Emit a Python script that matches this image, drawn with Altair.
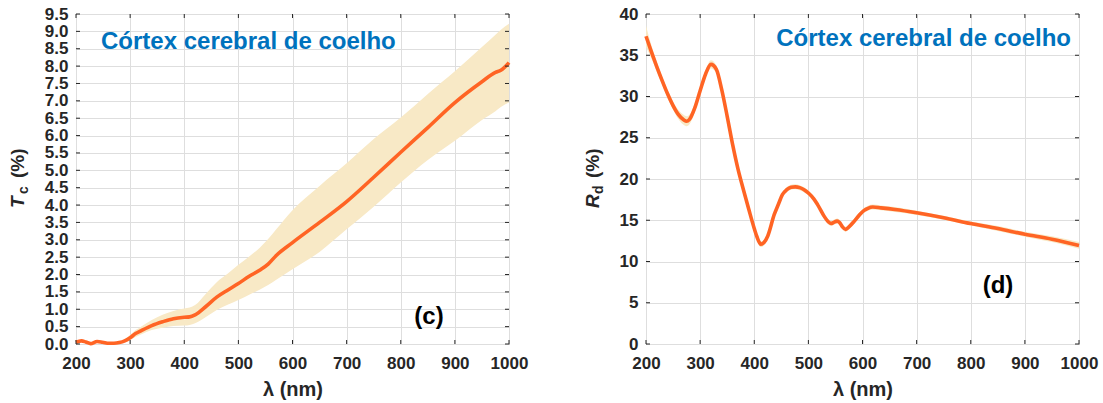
import altair as alt
import pandas as pd

# ---------------- data: panel (c) collimated transmittance ----------------
tc_x = [200, 210, 218, 227, 239, 249, 261, 270, 280, 290, 300, 310, 320, 340, 360, 380, 400, 410, 420,
        440, 460, 480, 500, 520, 540, 555, 570, 600, 650, 700, 750, 800, 850, 900, 950, 975, 985, 1000]
tc_mean = [0.05, 0.09, 0.06, 0.01, 0.07, 0.05, 0.02, 0.02, 0.04, 0.09, 0.18, 0.30, 0.38, 0.53, 0.64, 0.73,
           0.77, 0.78, 0.84, 1.08, 1.35, 1.55, 1.74, 1.95, 2.13, 2.30, 2.55, 2.92, 3.50, 4.10, 4.80, 5.52,
           6.23, 6.95, 7.55, 7.82, 7.88, 8.10]
tc_upper = [0.07, 0.11, 0.08, 0.03, 0.09, 0.07, 0.04, 0.04, 0.07, 0.14, 0.26, 0.40, 0.50, 0.69, 0.84, 0.95,
            1.02, 1.05, 1.12, 1.45, 1.78, 2.02, 2.28, 2.52, 2.78, 3.02, 3.30, 3.85, 4.55, 5.20, 5.90, 6.52,
            7.20, 7.85, 8.55, 8.90, 9.05, 9.22]
tc_lower = [0.03, 0.07, 0.04, 0.00, 0.05, 0.03, 0.00, 0.00, 0.02, 0.05, 0.11, 0.20, 0.27, 0.40, 0.47, 0.52,
            0.53, 0.55, 0.60, 0.78, 0.98, 1.13, 1.27, 1.42, 1.57, 1.70, 1.85, 2.15, 2.65, 3.30, 3.95, 4.65,
            5.30, 5.85, 6.45, 6.70, 6.82, 6.95]

# ---------------- data: panel (d) diffuse reflectance ----------------
rd_x = [200, 210, 220, 230, 240, 250, 260, 270, 275, 280, 290, 300, 310, 320, 330, 340, 350, 360, 370, 380,
        390, 400, 405, 412, 418, 425, 437, 445, 452, 460, 468, 476, 484, 492, 500, 510, 517, 529, 537, 542,
        547, 553, 558, 563, 569, 575, 585, 595, 603, 610, 619, 634, 660, 700, 750, 800, 850, 900, 950, 1000]
rd_mean = [37.3, 35.4, 33.6, 31.9, 30.3, 28.9, 27.8, 27.15, 27.0, 27.2, 28.6, 30.7, 32.7, 33.9, 33.3, 30.8,
           27.6, 24.2, 21.2, 18.7, 16.3, 14.0, 13.0, 12.1, 12.3, 13.1, 15.7, 17.0, 18.1, 18.7, 19.0, 19.05,
           18.95, 18.7, 18.3, 17.6, 16.9, 15.5, 14.8, 14.6, 14.75, 14.9, 14.7, 14.2, 13.9, 14.2, 14.9, 15.7,
           16.2, 16.45, 16.6, 16.5, 16.3, 15.9, 15.3, 14.6, 14.0, 13.3, 12.7, 11.95]
rd_upper = [38.6, 36.2, 34.2, 32.4, 30.8, 29.4, 28.35, 27.75, 27.6, 27.8, 29.1, 31.15, 33.15, 34.4, 33.75,
            31.2, 28.0, 24.6, 21.6, 19.1, 16.7, 14.35, 13.35, 12.45, 12.65, 13.4, 16.0, 17.3, 18.4, 19.0,
            19.3, 19.35, 19.25, 19.0, 18.6, 17.9, 17.2, 15.8, 15.1, 14.9, 15.05, 15.2, 15.0, 14.5, 14.2,
            14.5, 15.2, 16.0, 16.5, 16.75, 16.9, 16.8, 16.6, 16.15, 15.55, 14.85, 14.3, 13.6, 13.05, 12.35]
rd_lower = [36.0, 34.6, 33.0, 31.4, 29.8, 28.4, 27.25, 26.55, 26.4, 26.6, 28.1, 30.25, 32.25, 33.4, 32.85,
            30.4, 27.2, 23.8, 20.8, 18.3, 15.9, 13.65, 12.65, 11.75, 11.95, 12.8, 15.4, 16.7, 17.8, 18.4,
            18.7, 18.75, 18.65, 18.4, 18.0, 17.3, 16.6, 15.2, 14.5, 14.3, 14.45, 14.6, 14.4, 13.9, 13.6,
            13.9, 14.6, 15.4, 15.9, 16.15, 16.3, 16.2, 16.0, 15.65, 15.05, 14.35, 13.7, 13.0, 12.35, 11.55]

x_ticks = [200, 300, 400, 500, 600, 700, 800, 900, 1000]
tc_ticks = [0.0, 0.5, 1.0, 1.5, 2.0, 2.5, 3.0, 3.5, 4.0, 4.5, 5.0, 5.5, 6.0, 6.5, 7.0, 7.5, 8.0, 8.5, 9.0, 9.5]
rd_ticks = [0, 5, 10, 15, 20, 25, 30, 35, 40]

panel_title = "Córtex cerebral de coelho"
x_title = "λ (nm)"

LINE = "#FF6424"
BAND = "#F8E9C6"
BLUE = "#0072BD"
DARK = "#262626"
FONT = "Liberation Sans"
W, H = 433, 330


def panel(xs, mean, lo, hi, ymax, yticks, yfmt, letter, sym, sub, title_pos, letter_pos, ytitle_x):
    df = pd.DataFrame({"x": xs, "m": mean, "lo": lo, "hi": hi})
    xscale = alt.Scale(domain=[200, 1000], nice=False, zero=False)
    yscale = alt.Scale(domain=[0, ymax], nice=False, zero=False)
    xaxis = alt.Axis(values=x_ticks, title=x_title, format="d", labelOverlap=False, labelFlush=False,
                     labelPadding=11, titlePadding=8)
    yaxis = alt.Axis(values=yticks, title=None, format=yfmt, labelOverlap=False, labelFlush=False)

    def X(f):
        return alt.X(f, type="quantitative", scale=xscale, axis=xaxis)

    def Y(f):
        return alt.Y(f, type="quantitative", scale=yscale, axis=yaxis)

    band = alt.Chart(df).mark_area(color=BAND, opacity=1, interpolate="monotone").encode(
        x=X("x"), y=Y("lo"), y2="hi",
    )
    line = alt.Chart(df).mark_line(color=LINE, strokeWidth=3.6, interpolate="monotone").encode(
        x=X("x"), y=Y("m"),
    )

    xt = pd.DataFrame({"x": x_ticks})
    yt = pd.DataFrame({"m": yticks})
    tick_bottom = alt.Chart(xt).mark_rule(color=DARK, strokeWidth=1).encode(
        x=X("x"), y=alt.value(H), y2=alt.value(H - 4))
    tick_top = alt.Chart(xt).mark_rule(color=DARK, strokeWidth=1).encode(
        x=X("x"), y=alt.value(0), y2=alt.value(4))
    tick_left = alt.Chart(yt).mark_rule(color=DARK, strokeWidth=1).encode(
        y=Y("m"), x=alt.value(0), x2=alt.value(4))
    tick_right = alt.Chart(yt).mark_rule(color=DARK, strokeWidth=1).encode(
        y=Y("m"), x=alt.value(W), x2=alt.value(W - 4))

    t_df = pd.DataFrame({"t": [panel_title]})
    title = alt.Chart(t_df).mark_text(
        font=FONT, fontSize=24, fontWeight="bold", color=BLUE,
        align=title_pos[2], baseline="alphabetic",
    ).encode(x=alt.value(title_pos[0]), y=alt.value(title_pos[1]), text="t:N")

    l_df = pd.DataFrame({"t": [letter]})
    lab = alt.Chart(l_df).mark_text(
        font=FONT, fontSize=24, fontWeight="bold", color="black",
        align="center", baseline="alphabetic",
    ).encode(x=alt.value(letter_pos[0]), y=alt.value(letter_pos[1]), text="t:N")

    s_df = pd.DataFrame({"t": [sym]})
    ysym = alt.Chart(s_df).mark_text(
        font=FONT, fontSize=19, fontWeight="bold", fontStyle="italic", color=DARK,
        angle=270, align="left", baseline="alphabetic",
    ).encode(x=alt.value(ytitle_x), y=alt.value(194), text="t:N")
    b_df = pd.DataFrame({"t": [sub]})
    ysub = alt.Chart(b_df).mark_text(
        font=FONT, fontSize=14, fontWeight="bold", color=DARK,
        angle=270, align="left", baseline="alphabetic",
    ).encode(x=alt.value(ytitle_x + 4), y=alt.value(180), text="t:N")
    p_df = pd.DataFrame({"t": ["(%)"]})
    ypct = alt.Chart(p_df).mark_text(
        font=FONT, fontSize=19, fontWeight="bold", color=DARK,
        angle=270, align="left", baseline="alphabetic",
    ).encode(x=alt.value(ytitle_x), y=alt.value(164), text="t:N")

    return alt.layer(band, line, tick_bottom, tick_top, tick_left, tick_right,
                     title, lab, ysym, ysub, ypct).properties(width=W, height=H)


left = panel(tc_x, tc_mean, tc_lower, tc_upper, 9.5, tc_ticks, ".1f", "(c)", "T", "c",
             (25, 35, "left"), (353, 310), -52)
right = panel(rd_x, rd_mean, rd_lower, rd_upper, 40, rd_ticks, "d", "(d)", "R", "d",
              (425, 32, "right"), (352, 279), -47)

chart = alt.hconcat(left, right, spacing=54).properties(
    padding={"left": 8, "top": 4, "right": 0, "bottom": 0},
    background="white",
).configure_view(
    stroke="#333333", strokeWidth=1
).configure_axis(
    grid=True, gridColor="#dedede", gridWidth=1,
    domain=False, ticks=False,
    labelFont=FONT, labelFontSize=17, labelFontWeight="bold", labelColor=DARK, labelPadding=8,
    titleFont=FONT, titleFontSize=20, titleFontWeight="bold", titleColor=DARK, titlePadding=6,
)

chart.save("out.html", embed_options={"renderer": "svg", "actions": False})
